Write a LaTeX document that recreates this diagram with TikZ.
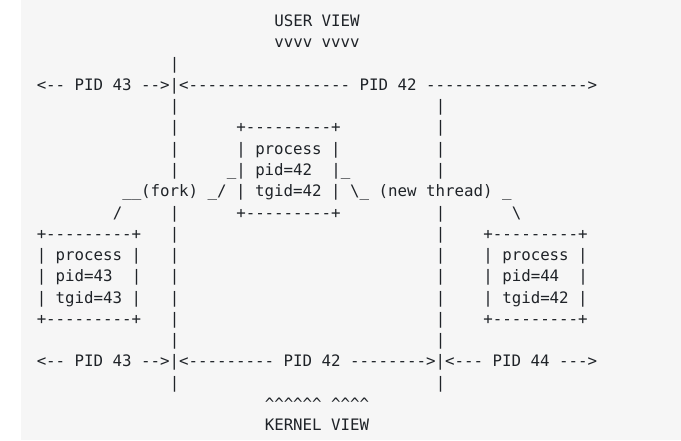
\documentclass[tikz,border=0pt]{standalone}
\usepackage{fontspec}
\setmonofont{DejaVu Sans Mono}
\definecolor{bg}{HTML}{F6F6F6}
\definecolor{ink}{HTML}{1F2328}
\tikzset{asc/.style={anchor=base west, inner sep=0pt, outer sep=0pt, text=ink,
  font=\ttfamily\fontsize{15.78pt}{21.26pt}\selectfont}}
% name, column, row, text
\newcommand\ascline[4]{\node[asc] (#1) at ({36.75pt+#2*9.5pt},{413.3pt-#3*21.26pt}) {#4};}
\newcommand\crt{\textasciicircum}
\begin{document}
\begin{tikzpicture}
\useasboundingbox (0,0) rectangle (681pt,440pt);
\fill[bg] (21pt,0) rectangle (681pt,440pt);
% user view
\ascline{uv}{25}{0}{USER VIEW}
\ascline{vv}{25}{1}{vvvv vvvv}
\ascline{b2}{14}{2}{|}
\ascline{r3}{0}{3}{<-- PID 43 -->|<----------------- PID 42 ----------------->}
\ascline{b4a}{14}{4}{|}
\ascline{b4b}{42}{4}{|}
% parent process box
\ascline{b5a}{14}{5}{|}
\ascline{p5}{21}{5}{+---------+}
\ascline{b5b}{42}{5}{|}
\ascline{b6a}{14}{6}{|}
\ascline{p6}{21}{6}{| process |}
\ascline{b6b}{42}{6}{|}
\ascline{b7a}{14}{7}{|}
\ascline{p7a}{20}{7}{\_| pid=42}
\ascline{p7b}{31}{7}{|\_}
\ascline{b7b}{42}{7}{|}
\ascline{p8}{9}{8}{\_\_(fork) \_/ | tgid=42 | \textbackslash\_ (new thread) \_}
\ascline{s9a}{8}{9}{/}
\ascline{b9a}{14}{9}{|}
\ascline{p9}{21}{9}{+---------+}
\ascline{b9b}{42}{9}{|}
\ascline{s9b}{50}{9}{\textbackslash}
% child boxes
\ascline{c10a}{0}{10}{+---------+}
\ascline{b10a}{14}{10}{|}
\ascline{b10b}{42}{10}{|}
\ascline{c10b}{47}{10}{+---------+}
\ascline{c11a}{0}{11}{| process |}
\ascline{b11a}{14}{11}{|}
\ascline{b11b}{42}{11}{|}
\ascline{c11b}{47}{11}{| process |}
\ascline{c12a}{0}{12}{| pid=43}
\ascline{c12ae}{10}{12}{|}
\ascline{b12a}{14}{12}{|}
\ascline{b12b}{42}{12}{|}
\ascline{c12b}{47}{12}{| pid=44}
\ascline{c12be}{57}{12}{|}
\ascline{c13a}{0}{13}{| tgid=43 |}
\ascline{b13a}{14}{13}{|}
\ascline{b13b}{42}{13}{|}
\ascline{c13b}{47}{13}{| tgid=42 |}
\ascline{c14a}{0}{14}{+---------+}
\ascline{b14a}{14}{14}{|}
\ascline{b14b}{42}{14}{|}
\ascline{c14b}{47}{14}{+---------+}
\ascline{b15a}{14}{15}{|}
\ascline{b15b}{42}{15}{|}
% kernel view
\ascline{r16}{0}{16}{<-- PID 43 -->|<--------- PID 42 -------->|<--- PID 44 --->}
\ascline{b17a}{14}{17}{|}
\ascline{b17b}{42}{17}{|}
\ascline{kk}{24}{18}{\crt\crt\crt\crt\crt\crt{} \crt\crt\crt\crt}
\ascline{kv}{24}{19}{KERNEL VIEW}
\end{tikzpicture}
\end{document}
